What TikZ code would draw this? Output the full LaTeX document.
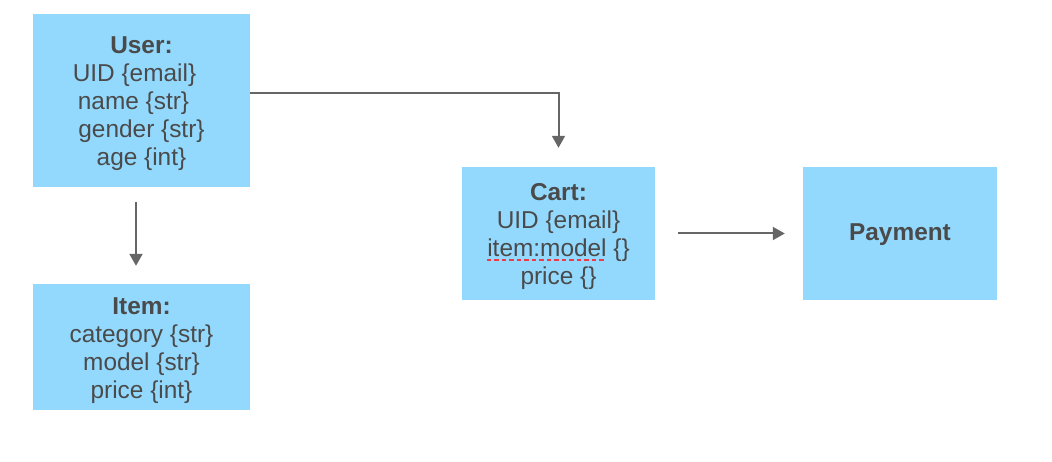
\documentclass[tikz,border=0pt]{standalone}
\usepackage{fontspec}
\setmainfont{Liberation Sans}
\usetikzlibrary{arrows.meta}
\definecolor{boxblue}{HTML}{93D9FE}
\definecolor{txt}{HTML}{4A4A4A}
\definecolor{arrgray}{HTML}{666666}
\definecolor{spellred}{HTML}{EE3B45}
\newcommand{\firststrut}{\rule{0pt}{20pt}}
\begin{document}
\begin{tikzpicture}[x=1pt,y=-1pt,
  entity/.style={fill=boxblue, draw=none, inner sep=0pt},
  etext/.style={inner sep=0pt, align=center, text=txt, font=\fontsize{24.4}{28}\selectfont},
  arr/.style={draw=arrgray, line width=2pt, -{Triangle[width=13pt,length=12pt]}}]
\useasboundingbox (0,0) rectangle (1052,462);
\node[entity, minimum width=217pt, minimum height=173pt] (user) at (141.5,100.5) {};
\node[entity, minimum width=217pt, minimum height=126pt] (item) at (141.5,347) {};
\node[entity, minimum width=193pt, minimum height=133pt] (cart) at (558.5,233.5) {};
\node[entity, minimum width=194pt, minimum height=133pt] (payment) at (900,233.5) {};
\node[etext, anchor=north] (usertext) at (141.5,33.3)
  {\firststrut\textbf{User:}\\UID \{email\}\rule{14pt}{0pt}\\name \{str\}\rule{16pt}{0pt}\\gender \{str\}\\age \{int\}};
\node[etext, anchor=north] (itemtext) at (141.5,294)
  {\firststrut\textbf{Item:}\\category \{str\}\\model \{str\}\\price \{int\}};
\node[etext, anchor=north] (carttext) at (558.5,180.7)
  {\firststrut\textbf{Cart:}\\UID \{email\}\\item:model \{\}\\price \{\}};
\node[etext, anchor=base] (paytext) at (900,240.7) {\textbf{Payment}};
\draw[spellred, line width=2.8pt, dash pattern=on 4.5pt off 3pt]
  ([xshift=-71.8pt,yshift=-26.5pt]cart.center) -- ([xshift=46.5pt,yshift=-26.5pt]cart.center);
\draw[arr, shorten <=15pt, shorten >=18pt] ([xshift=-5.5pt]user.south) -- ([xshift=-5.5pt]item.north);
\draw[arr, shorten >=19pt] ([yshift=7.5pt]user.east) -| (cart.north);
\draw[arr, shorten <=23pt, shorten >=18pt] (cart.east) -- (payment.west);
\end{tikzpicture}
\end{document}
